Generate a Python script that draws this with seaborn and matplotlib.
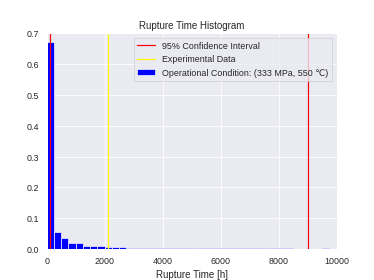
import numpy as np
import pandas as pd
import seaborn as sns
import matplotlib.pyplot as plt

# bin edges every 250 h (probability per bin)
bin_width = 250
bin_start = np.arange(0, 10000, bin_width)
bin_prob = [0.67, 0.055, 0.035, 0.021, 0.020, 0.011, 0.009, 0.009, 0.006, 0.008,
            0.006, 0.005, 0.005, 0.004, 0.004, 0.004, 0.003, 0.003, 0.003, 0.003,
            0.004, 0.005, 0.003, 0.003, 0.003, 0.003, 0.0025, 0.0025, 0.0025, 0.0025,
            0.0025, 0.0025, 0.0025, 0.0025, 0.002, 0.002, 0.002, 0.002, 0.003, 0.002]

ci_lines = [100, 9030]
experimental = 2120

df = pd.DataFrame({"time": bin_start + bin_width / 2, "prob": bin_prob})

sns.set_theme(style="darkgrid")
plt.rcParams["font.family"] = ["Liberation Sans", "DejaVu Sans"]
fig, ax = plt.subplots(figsize=(6.4, 4.8), dpi=58.44)

sns.histplot(data=df, x="time", weights="prob", bins=len(bin_prob), binrange=(0, 10000),
             color="blue", alpha=1, edgecolor="white", linewidth=0.8,
             label="Operational Condition: (333 MPa, 550 \u2103)", ax=ax)

ax.axvline(ci_lines[0], color="red", lw=1.5, label="95% Confidence Interval")
ax.axvline(ci_lines[1], color="red", lw=1.5)
ax.axvline(experimental, color="yellow", lw=1.5, label="Experimental Data")

ax.set_xlim(0, 10000)
ax.set_ylim(0, 0.7)
ax.set_ylabel("")
ax.set_xlabel("Rupture Time [h]")
plt.title("Rupture Time Histogram")

handles, labels = ax.get_legend_handles_labels()
order = [labels.index("95% Confidence Interval"), labels.index("Experimental Data"),
         labels.index("Operational Condition: (333 MPa, 550 \u2103)")]
ax.legend([handles[i] for i in order], [labels[i] for i in order], loc="upper right",
          frameon=True)

plt.savefig("out.png")
